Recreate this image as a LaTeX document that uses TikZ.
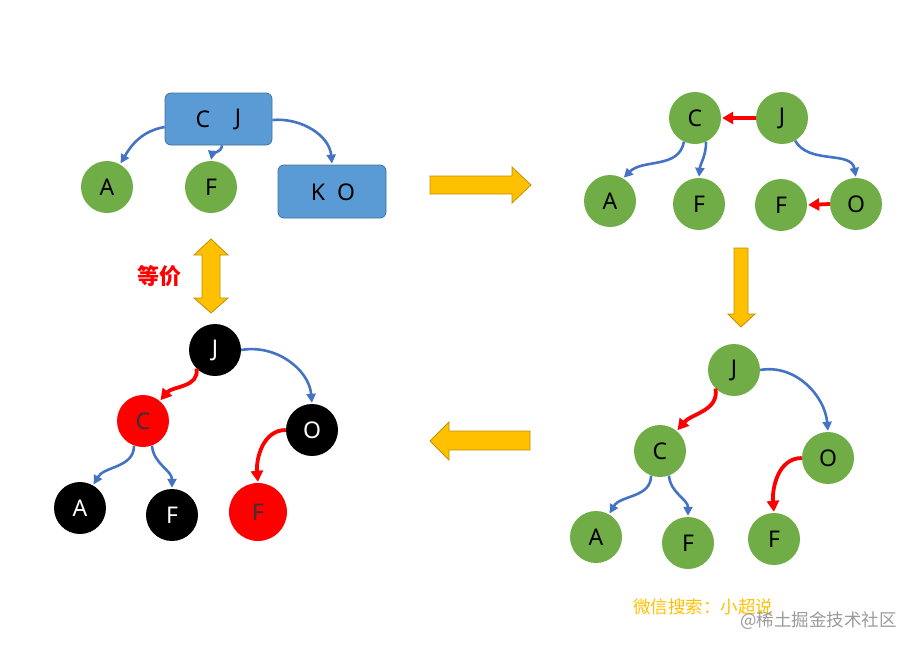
\documentclass[tikz,border=0pt]{standalone}
\usepackage{fontspec}
\setmainfont{Noto Sans}
\newfontfamily\cjk{Noto Sans CJK SC}
\usetikzlibrary{arrows.meta,shapes.misc}
\definecolor{gfill}{HTML}{70AD47}
\definecolor{bfill}{HTML}{5B9BD5}
\definecolor{bdraw}{HTML}{41719C}
\definecolor{barrow}{HTML}{4472C4}
\definecolor{yfill}{HTML}{FFC000}
\definecolor{ydraw}{HTML}{BF9000}
\definecolor{wmgray}{HTML}{9A9A9A}
\tikzset{
  lbl/.style={font=\fontsize{23}{23}\selectfont},
  gnode/.style={circle,fill=gfill,minimum size=52pt,inner sep=0pt,lbl},
  knode/.style={circle,fill=black,text=white,minimum size=52pt,inner sep=0pt,lbl},
  rnode/.style={circle,fill=red,text=black!80,minimum size=52pt,inner sep=0pt,lbl},
  bbox/.style={rounded corners=6pt,fill=bfill,draw=bdraw,line width=0.8pt},
  barr/.style={draw=barrow,line width=2.6pt,-{Triangle[length=9pt,width=9pt]},shorten >=1pt},
  rarr/.style={draw=red,line width=3.8pt,-{Triangle[length=11pt,width=12pt]},shorten >=1pt},
  yblock/.style={fill=yfill,draw=ydraw,line width=0.8pt,line join=miter}
}
\begin{document}
\begin{tikzpicture}[x=1pt,y=1pt]
\useasboundingbox (0,0) rectangle (919,-651);
% ---- top-left
\node[bbox,minimum width=107pt,minimum height=52pt] (cj) at (218.5,-119) {};
\node[lbl] at (203,-119) (cjc) {C};
\node[lbl] at (238,-119) (cjj) {J};
\node[gnode] (ta) at (107,-187) {A};
\node[gnode] (tf) at (211,-187) {F};
\node[bbox,minimum width=108pt,minimum height=53pt] (ko) at (332,-191.5) {};
\node[lbl] at (318,-192) (kok) {K};
\node[lbl] at (346,-192) (koo) {O};
\draw[barr] (cj.west |- 0,-127) to[out=190,in=60] (ta.60);
\draw[barr] (cj.south -| 222,0) to[out=-95,in=80] (tf.north);
\draw[barr] (cj.east |- 0,-120) to[out=5,in=95] (ko.north);
% ---- yellow arrows
\draw[yblock] (430,-176) -- (512,-176) -- (512,-167) -- (531,-185) -- (512,-203) -- (512,-194) -- (430,-194) -- cycle;
\draw[yblock] (734,-248) -- (748,-248) -- (748,-314) -- (755,-314) -- (741,-327) -- (728,-314) -- (734,-314) -- cycle;
\draw[yblock] (530,-431) -- (449,-431) -- (449,-422) -- (430,-441) -- (449,-460) -- (449,-450) -- (530,-450) -- cycle;
\draw[yblock] (211,-239) -- (228,-255) -- (220,-255) -- (220,-298) -- (228,-298) -- (211,-313) -- (194,-298) -- (202,-298) -- (202,-255) -- (194,-255) -- cycle;
\node[text=red,font=\cjk\bfseries\fontsize{22}{22}\selectfont] (eq) at (159,-276) {等价};
% ---- top-right
\node[gnode] (rc) at (695,-118) {C};
\node[gnode] (rj) at (782,-118) {J};
\node[gnode] (ra) at (610,-201) {A};
\node[gnode] (rf1) at (699,-204) {F};
\node[gnode] (rf2) at (781,-205) {F};
\node[gnode] (ro) at (856,-204) {O};
\draw[rarr] (rj.west) -- (rc.east);
\draw[barr] (rc.-115) to[out=-100,in=45] (ra.60);
\draw[barr] (rc.-65) to[out=-90,in=85] (rf1.north);
\draw[barr] (rj.-60) to[out=-60,in=100] (ro.north);
\draw[rarr] (ro.west) -- (rf2.east);
% ---- bottom-right
\node[gnode] (bj) at (734,-370) {J};
\node[gnode] (bc) at (660,-451) {C};
\node[gnode] (bo) at (828,-458) {O};
\node[gnode] (ba) at (596,-537) {A};
\node[gnode] (bf1) at (688,-543) {F};
\node[gnode] (bf2) at (774,-539) {F};
\draw[rarr] (bj.-135) to[out=-80,in=50] (bc.50);
\draw[barr] (bj.east) to[out=10,in=95] (bo.north);
\draw[barr] (bc.-110) to[out=-90,in=60] (ba.60);
\draw[barr] (bc.-70) to[out=-85,in=90] (bf1.north);
\draw[rarr] (bo.west) to[out=180,in=95] (bf2.north);
% ---- bottom-left
\node[knode] (lj) at (215,-350) {J};
\node[rnode] (lc) at (143,-421) {C};
\node[knode] (lo) at (312,-430) {O};
\node[knode] (la) at (80,-508) {A};
\node[knode] (lf1) at (172,-515) {F};
\node[rnode,minimum size=58pt] (lf2) at (258,-512) {F};
\draw[rarr] (lj.-135) to[out=-80,in=50] (lc.50);
\draw[barr] (lj.east) to[out=10,in=95] (lo.north);
\draw[barr] (lc.-110) to[out=-90,in=60] (la.60);
\draw[barr] (lc.-70) to[out=-85,in=90] (lf1.north);
\draw[rarr] (lo.west) to[out=180,in=95] (lf2.north);
% ---- watermark
\node[anchor=west,text=yfill,font=\cjk\fontsize{17.5}{17.5}\selectfont,inner sep=0pt] (wm1) at (633,-607) {微信搜索：小超说};
\node[anchor=west,text=wmgray,font=\cjk\fontsize{17.5}{17.5}\selectfont,inner sep=0pt] (wm2) at (740,-621) {@稀土掘金技术社区};
\end{tikzpicture}
\end{document}
